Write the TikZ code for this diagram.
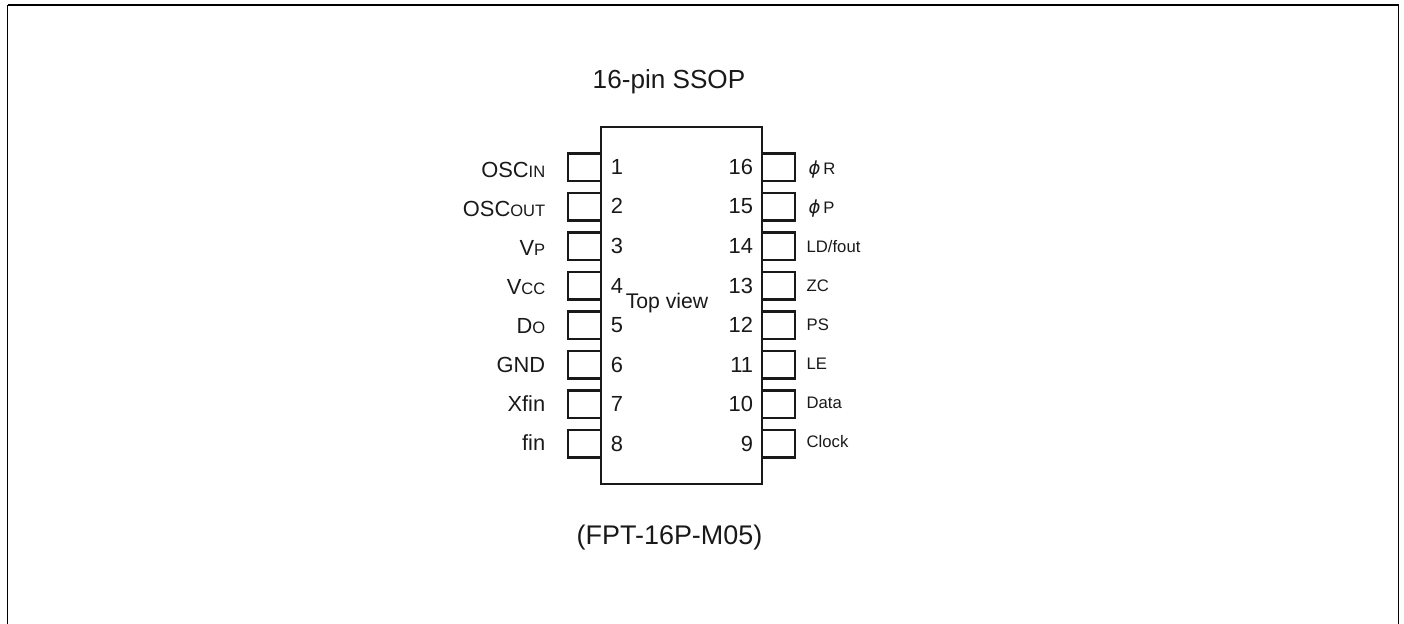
\documentclass[tikz,border=0pt]{standalone}
\usepackage{fontspec}
\setmainfont{Liberation Sans}
\newfontfamily\phifont{DejaVu Sans}
\newcommand{\sm}[1]{{\fontsize{12.4pt}{13pt}\selectfont #1}}
\newcommand{\ph}[1]{\hspace*{1.4pt}\makebox[11.2pt][l]{\phifont\itshape\fontsize{13.5pt}{14pt}\selectfont ϕ}#1}
\tikzset{
  topline/.style={line width=1.5pt,black},
  sideline/.style={line width=1.1pt,black},
  chipbody/.style={draw=black!90,line width=1.7pt,rectangle,inner sep=0pt,minimum width=120.75pt,minimum height=267.5pt},
  pinbox/.style={draw=black!90,line width=1.7pt,rectangle,inner sep=0pt,minimum width=24.75pt,minimum height=20.6pt},
  txt/.style={inner sep=0pt,text=black!90},
  ltxt/.style={txt,anchor=base east,font=\fontsize{16.4pt}{17pt}\selectfont},
  rtxt/.style={txt,anchor=base west,font=\fontsize{12.5pt}{13pt}\selectfont},
  ntxt/.style={txt,anchor=base,font=\fontsize{16.4pt}{17pt}\selectfont},
  ttl/.style={txt,anchor=base,font=\fontsize{19.6pt}{20pt}\selectfont},
  pkgtxt/.style={txt,anchor=base,font=\fontsize{20.2pt}{21pt}\selectfont},
  viewtxt/.style={txt,anchor=base,font=\fontsize{15.9pt}{17pt}\selectfont},
}
\begin{document}
\begin{tikzpicture}[x=0.75pt,y=-0.75pt]
\useasboundingbox (0,0) rectangle (1404,624);
\coordinate (fa) at (7.5,624);
\coordinate (fb) at (7.5,5);
\coordinate (fc) at (1398.5,5);
\coordinate (fd) at (1398.5,624);
\draw[sideline] (fa) -- (fb);
\draw[sideline] (fc) -- (fd);
\draw[topline] (fb) -- (fc);
\node[ttl] (title) at (669,89) {16-pin SSOP};
\node[chipbody] (chip) at (681.5,305.3) {};
\node[viewtxt] (view) at (667,309) {Top view};
\node[pkgtxt] (pkg) at (669.5,544) {(FPT-16P-M05)};
% left side
\foreach \i/\t in {1/{OSC\sm{IN}},2/{OSC\sm{OUT}},3/{V\sm{P}},4/{V\sm{CC}},5/{D\sm{O}},6/{GND},7/{Xfin},8/{fin}}{
  \pgfmathsetmacro{\yy}{167.3+39.5*(\i-1)}
  \pgfmathsetmacro{\ny}{174.5+39.5*(\i-1)}
  \pgfmathsetmacro{\ly}{178+38.9*(\i-1)}
  \node[pinbox] (L\i) at (584.5,\yy) {};
  \node[ntxt,anchor=base west] (NL\i) at (610.5,\ny) {\i};
  \node[ltxt] (TL\i) at (545.5,\ly) {\t};
}
% right side
\foreach \i/\n/\t in {1/16/{\ph{R}},2/15/{\ph{P}},3/14/{LD/fout},4/13/{ZC},5/12/{PS},6/11/{LE},7/10/{Data},8/9/{Clock}}{
  \pgfmathsetmacro{\yy}{167.3+39.5*(\i-1)}
  \pgfmathsetmacro{\ny}{174.5+39.5*(\i-1)}
  \pgfmathsetmacro{\ly}{175+38.9*(\i-1)}
  \node[pinbox] (R\i) at (778.5,\yy) {};
  \node[ntxt,anchor=base east] (NR\i) at (753.3,\ny) {\n};
  \node[rtxt] (TR\i) at (806.4,\ly) {\t};
}
\end{tikzpicture}
\end{document}
